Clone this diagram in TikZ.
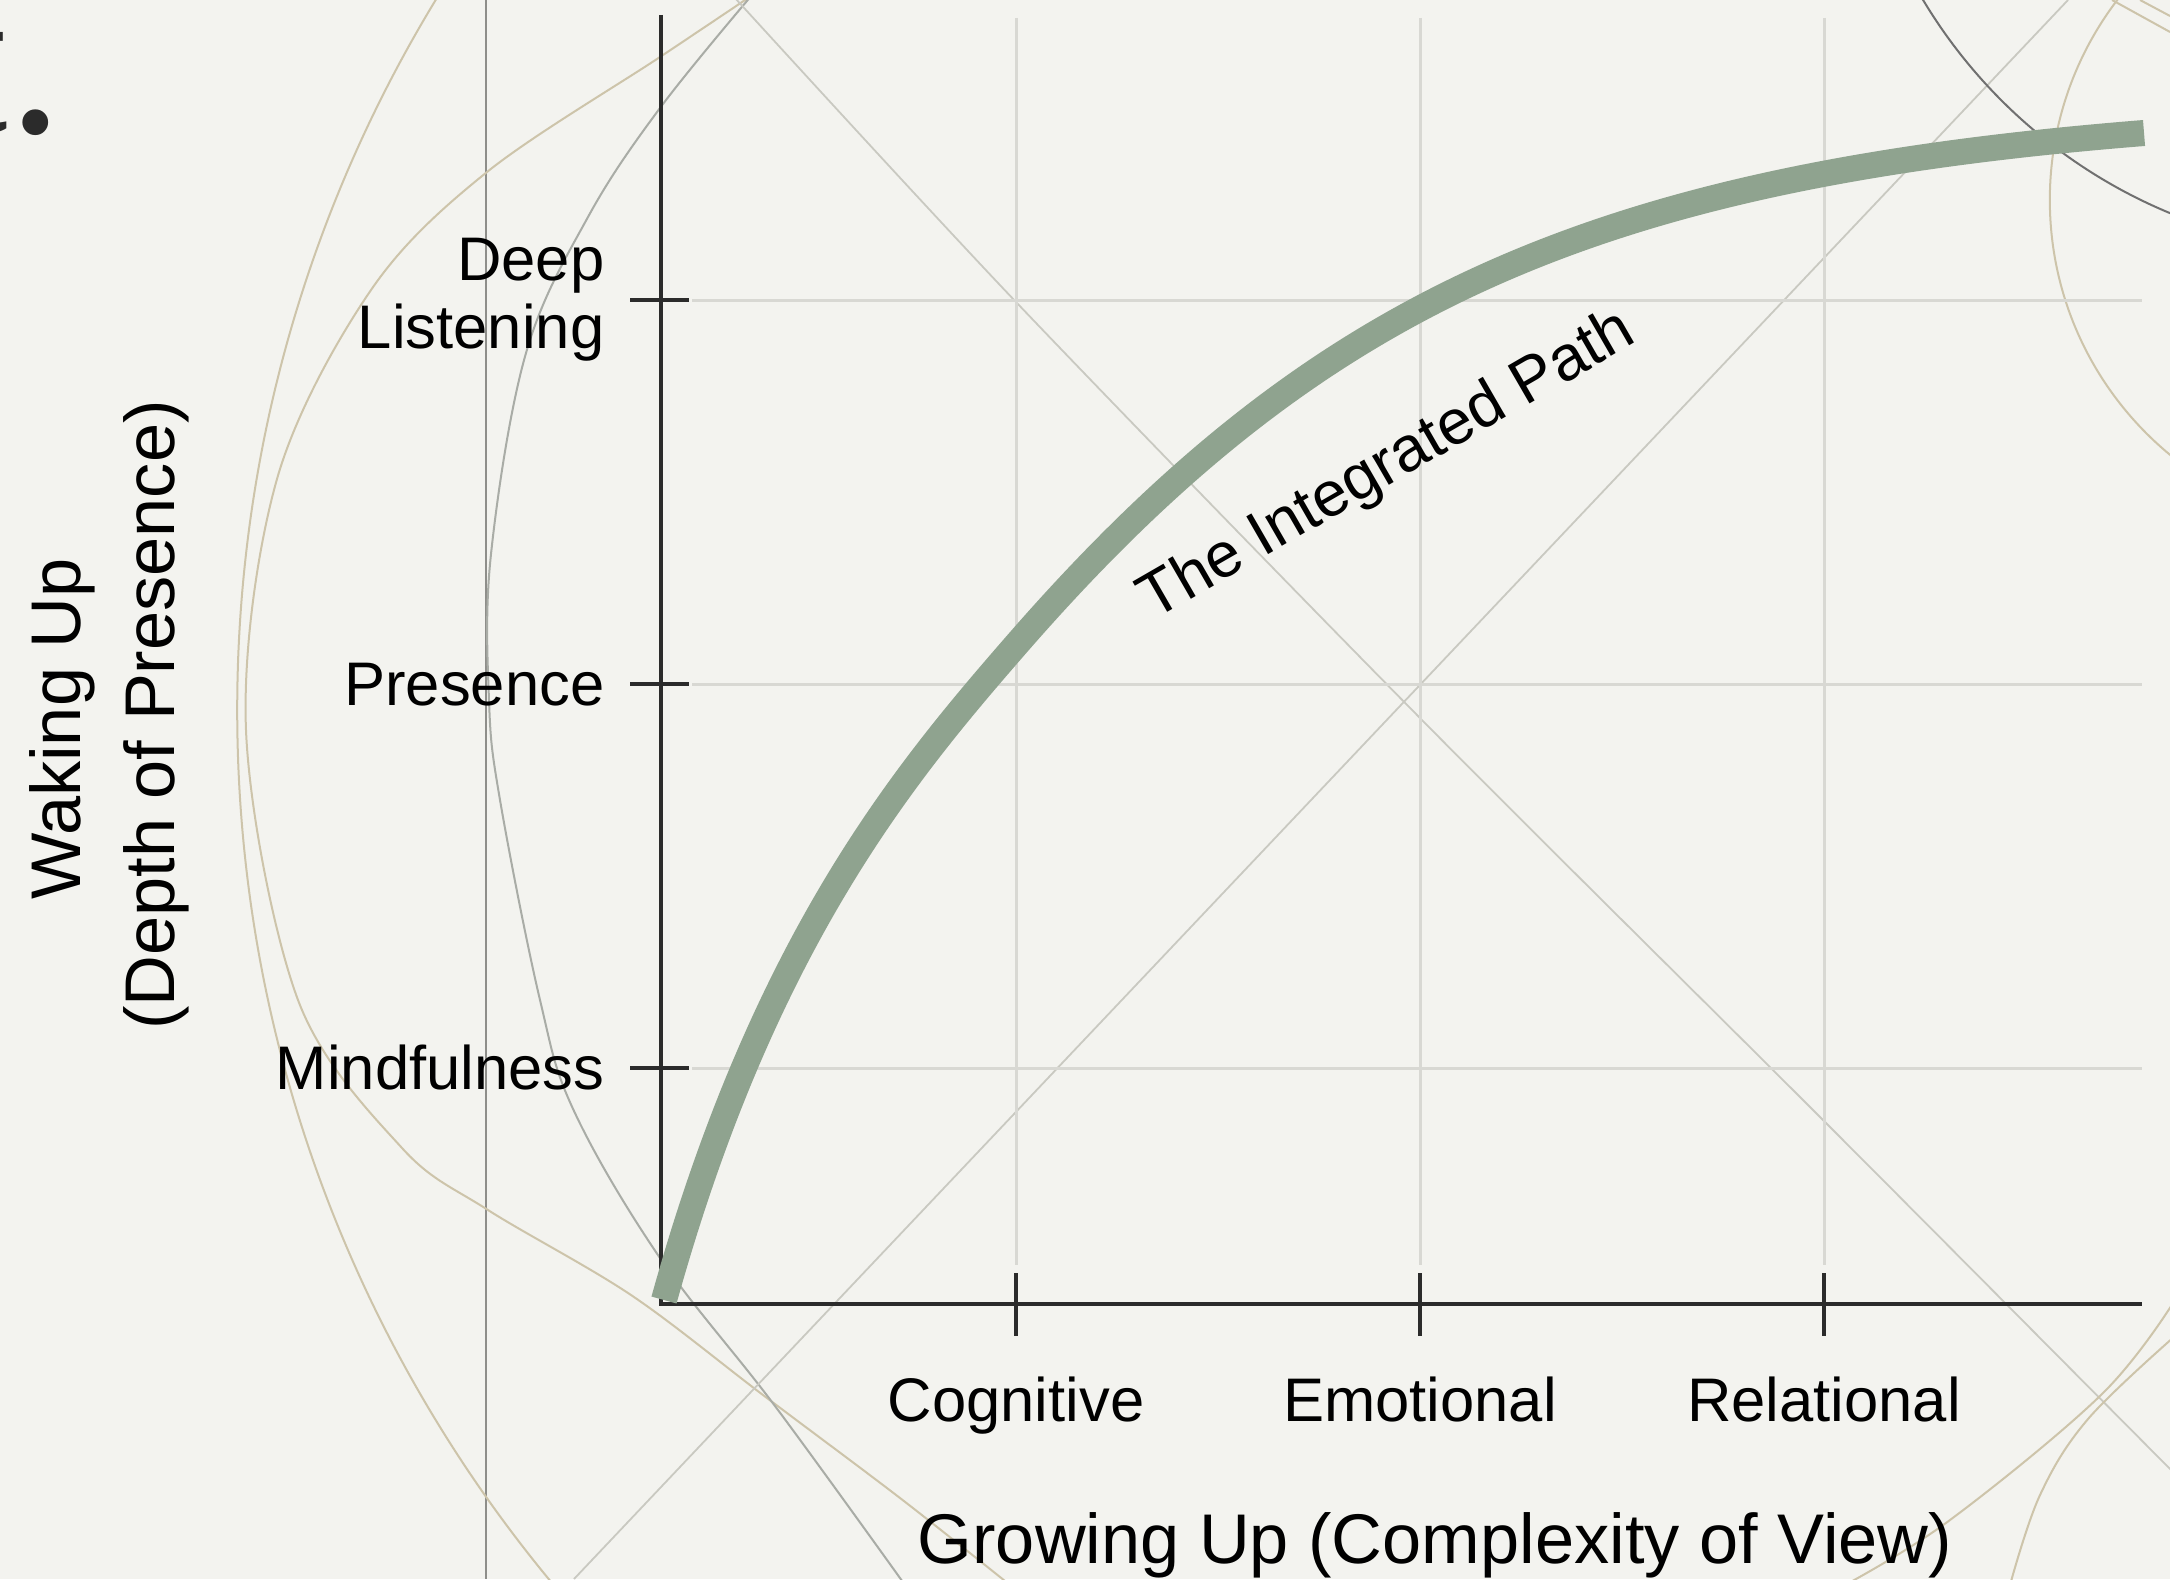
\documentclass[tikz,border=0pt]{standalone}
\usepackage{fontspec}
\setmainfont{Liberation Sans}
\newfontfamily\titlefont{Liberation Serif}
\definecolor{bgc}{HTML}{F3F3EF}
\definecolor{axisc}{HTML}{2B2B2B}
\definecolor{gridc}{HTML}{D8D8D3}
\definecolor{curvec}{HTML}{8FA38F}
\definecolor{beigec}{HTML}{CDC4AA}
\definecolor{grayarc}{HTML}{A9ACA6}
\definecolor{xlinec}{HTML}{C9C9C1}
\definecolor{darkarc}{HTML}{707070}
\definecolor{vlinec}{HTML}{8E8E8A}
\begin{document}
\begin{tikzpicture}[x=0.01cm,y=-0.01cm,
  beigeline/.style={draw=beigec,line width=0.02cm},
  grayline/.style={draw=grayarc,line width=0.02cm},
  xline/.style={draw=xlinec,line width=0.018cm},
  darkline/.style={draw=darkarc,line width=0.02cm},
  gridline/.style={draw=gridc,line width=0.03cm},
  axisline/.style={draw=axisc,line width=0.045cm},
  tickmark/.style={draw=axisc,line width=0.04cm},
  ticklabel/.style={font=\fontsize{17.5}{19.3}\selectfont,inner sep=0pt,text=black},
  axislabel/.style={font=\fontsize{20}{24}\selectfont,inner sep=0pt,text=black},
  pathcurve/.style={draw=curvec,line width=0.26cm,line cap=butt}]
\useasboundingbox (0,0) rectangle (2170,1579);
\fill[bgc] (0,0) rectangle (2170,1579);

% decorative background geometry
\begin{scope}
\clip (0,0) rectangle (2170,1579);
\draw[draw=vlinec,line width=0.02cm] (486,0) -- (486,1579);
\draw[beigeline] (1605,710) circle[radius=13.67cm];
\draw[beigeline] plot[smooth,tension=0.55] coordinates {(760,-10) (660,57) (487,172) (371,290) (277,479) (246,730) (298,1000) (402,1148) (488,1210) (631,1295) (763,1395) (900,1498) (1010,1585)};
\draw[grayline] plot[smooth,tension=0.6] coordinates {(752,-5) (660,108) (588,217) (526,353) (491,554) (489,700) (500,800) (540,1000) (574,1111) (660,1258) (775,1406) (905,1585)};
\draw[xline] plot[smooth,tension=0.5] coordinates {(735,-2) (1016,302) (1417,715) (1825,1122) (2175,1474)};
\draw[xline] (2068,0) -- (574,1579);
\draw[darkline] (2368,-266) circle[radius=5.18cm];
\draw[beigeline] (2380,200) circle[radius=3.3cm];
\draw[beigeline] (2112,0) -- (2170,32);
\draw[beigeline] (2140,0) -- (2170,16);
\draw[beigeline] plot[smooth,tension=0.6] coordinates {(2175,1300) (2102,1394) (1950,1520) (1845,1585)};
\draw[beigeline] plot[smooth,tension=0.6] coordinates {(2175,1336) (2088,1419) (2040,1495) (2010,1585)};
\end{scope}

% cut-off fragment of a title at the top left
\node[anchor=base west,inner sep=0pt,font=\titlefont\fontsize{62}{70}\selectfont,text=axisc] (frag) at (-53,133) {t.};

% grid
\coordinate (O) at (661,1304);
\coordinate (ytop) at (661,15);
\coordinate (xend) at (2142,1304);
\foreach \gx in {1016,1420,1824} \draw[gridline] (\gx,18) -- (\gx,1265);
\foreach \gy in {300,684,1068} \draw[gridline] (692,\gy) -- (2142,\gy);

% axes
\draw[axisline] (ytop) -- (O) -- (xend);
\foreach \gy in {300,684,1068} \draw[tickmark] (630,\gy) -- (689,\gy);
\foreach \gx in {1016,1420,1824} \draw[tickmark] (\gx,1273) -- (\gx,1336);

% the integrated path
\coordinate (pstart) at (664,1300);
\coordinate (pmid) at (1016,645);
\coordinate (pend) at (2144,133);
\draw[pathcurve] (pstart) .. controls (764,940) and (906,771.5) .. (pmid)
  .. controls (1316,300) and (1594,177) .. (pend);
\node[rotate=30,anchor=base,inner sep=0pt,font=\fontsize{18}{20}\selectfont] (pathlabel) at (1396,481) {The Integrated Path};

% y tick labels
\node[ticklabel,anchor=east,align=right] (deep) at (605,300) {Deep\\Listening};
\node[ticklabel,anchor=base east] (presence) at (605,705) {Presence};
\node[ticklabel,anchor=base east] (mindful) at (605,1089) {Mindfulness};

% x tick labels
\node[ticklabel,anchor=base] (cog) at (1016,1421) {Cognitive};
\node[ticklabel,anchor=base] (emo) at (1420,1421) {Emotional};
\node[ticklabel,anchor=base] (rel) at (1824,1421) {Relational};

% axis titles
\node[axislabel,anchor=base] (xlab) at (1435,1563) {Growing Up (Complexity of View)};
\node[axislabel,anchor=base,rotate=90] (ylab1) at (80,729) {Waking Up};
\node[axislabel,anchor=base,rotate=90] (ylab2) at (174,715) {(Depth of Presence)};
\end{tikzpicture}
\end{document}
